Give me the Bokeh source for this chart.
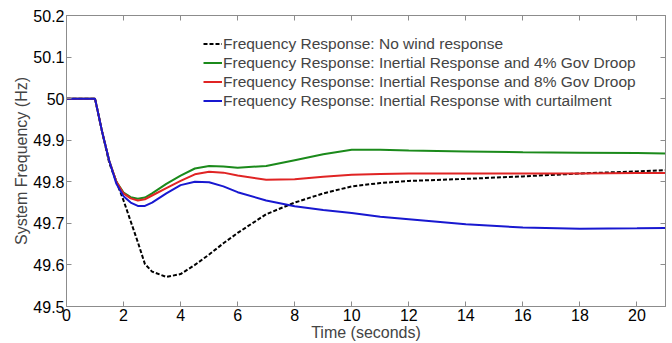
from bokeh.plotting import figure
from bokeh.models import FixedTicker, LinearAxis, Legend, LegendItem
from bokeh.embed import file_html
from bokeh.resources import INLINE

t = [0, 1, 1.25, 1.5, 1.75, 2, 2.25, 2.5, 2.75, 3, 3.5, 4, 4.5, 5, 5.5, 6, 7, 8, 9, 10, 11, 12, 14, 16, 18, 20, 21]
no_wind = [50, 50, 49.92, 49.845, 49.80, 49.755, 49.705, 49.655, 49.602, 49.584, 49.571, 49.578, 49.600, 49.625, 49.652, 49.677, 49.722, 49.750, 49.772, 49.789, 49.797, 49.802, 49.807, 49.813, 49.820, 49.825, 49.828]
droop4 = [50, 50, 49.92, 49.85, 49.80, 49.774, 49.763, 49.759, 49.762, 49.772, 49.795, 49.815, 49.832, 49.838, 49.837, 49.834, 49.838, 49.852, 49.866, 49.877, 49.877, 49.875, 49.873, 49.871, 49.870, 49.869, 49.868]
droop8 = [50, 50, 49.92, 49.85, 49.80, 49.772, 49.760, 49.755, 49.758, 49.767, 49.785, 49.802, 49.818, 49.824, 49.822, 49.815, 49.805, 49.806, 49.812, 49.817, 49.819, 49.820, 49.820, 49.820, 49.820, 49.821, 49.821]
curtail = [50, 50, 49.92, 49.85, 49.795, 49.765, 49.750, 49.742, 49.742, 49.750, 49.772, 49.792, 49.800, 49.799, 49.789, 49.775, 49.755, 49.741, 49.732, 49.725, 49.716, 49.710, 49.698, 49.690, 49.687, 49.688, 49.689]

labels = [
    "Frequency Response: No wind response",
    "Frequency Response: Inertial Response and 4% Gov Droop",
    "Frequency Response: Inertial Response and 8% Gov Droop",
    "Frequency Response: Inertial Response with curtailment",
]
x_ticks = [0, 2, 4, 6, 8, 10, 12, 14, 16, 18, 20]
y_ticks = [49.5, 49.6, 49.7, 49.8, 49.9, 50.0, 50.1, 50.2]
y_tick_labels = ["49.5", "49.6", "49.7", "49.8", "49.9", "50", "50.1", "50.2"]

FONT = "Liberation Sans"
GRAY = "#8c8c8c"

p = figure(width=672, height=343, output_backend="svg", toolbar_location=None,
           x_range=(0, 21), y_range=(49.5, 50.2),
           min_border_left=66, min_border_right=7, min_border_top=15, min_border_bottom=35)
p.background_fill_color = "white"
p.border_fill_color = "white"
p.outline_line_color = GRAY
p.xgrid.visible = False
p.ygrid.visible = False

r1 = p.line(t, no_wind, line_color="black", line_width=2, line_dash="4 2")
r2 = p.line(t, droop4, line_color="#1b8a1b", line_width=2)
r3 = p.line(t, droop8, line_color="#e02424", line_width=2)
r4 = p.line(t, curtail, line_color="#1818d0", line_width=2)

def style(ax, show_labels=True):
    ax.axis_line_color = GRAY
    ax.major_tick_line_color = GRAY
    ax.major_tick_in = 5
    ax.major_tick_out = 0
    ax.minor_tick_line_color = None
    ax.major_label_text_font = FONT
    ax.major_label_text_font_size = "16px"
    ax.major_label_text_color = "black"
    ax.major_label_standoff = 2
    if not show_labels:
        ax.major_label_text_alpha = 0
        ax.major_label_text_font_size = "1px"

p.xaxis.ticker = FixedTicker(ticks=x_ticks)
p.yaxis.ticker = FixedTicker(ticks=y_ticks)
p.yaxis.major_label_overrides = {v: s for v, s in zip(y_ticks, y_tick_labels)}
style(p.xaxis[0])
style(p.yaxis[0])
p.xaxis.axis_label = "Time (seconds)"
p.yaxis.axis_label = "System Frequency (Hz)"
for ax in (p.xaxis[0], p.yaxis[0]):
    ax.axis_label_text_font = FONT
    ax.axis_label_text_font_size = "16px"
    ax.axis_label_text_font_style = "normal"
    ax.axis_label_standoff = 0

top = LinearAxis(ticker=FixedTicker(ticks=x_ticks))
style(top, False)
p.add_layout(top, "above")
right = LinearAxis(ticker=FixedTicker(ticks=y_ticks))
style(right, False)
p.add_layout(right, "right")

legend = Legend(items=[LegendItem(label=l, renderers=[r]) for l, r in zip(labels, [r1, r2, r3, r4])],
                location=(137, 196))
legend.border_line_color = None
legend.background_fill_alpha = 0
legend.padding = 0
legend.spacing = 0
legend.margin = 0
legend.label_height = 19
legend.glyph_height = 19
legend.glyph_width = 19
legend.label_standoff = 1
legend.label_text_font = FONT
legend.label_text_font_size = "15.5px"
p.add_layout(legend, "center")

open("out.html", "w").write(file_html(p, INLINE))
